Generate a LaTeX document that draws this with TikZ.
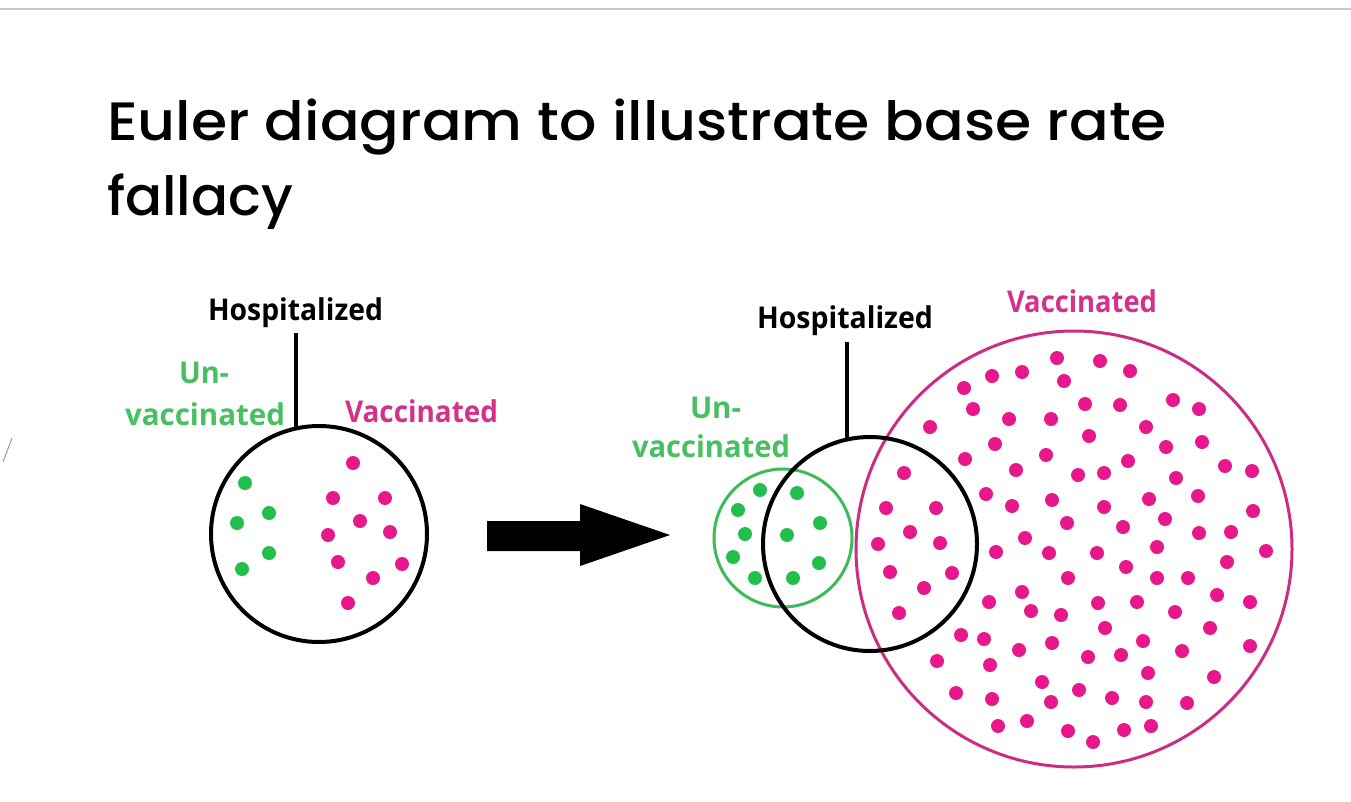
\documentclass[tikz,border=0pt]{standalone}
\usepackage{fontspec}
\usepackage{graphicx}
\setmainfont{Poppins}[UprightFont=* Medium]
\newfontfamily\labfont{Open Sans}
\definecolor{rulegray}{HTML}{C8C8C8}
\definecolor{slashgray}{HTML}{9A9A9A}
\definecolor{greentxt}{HTML}{48BF60}
\definecolor{greendot}{HTML}{22BF4E}
\definecolor{greenline}{HTML}{3DBA5C}
\definecolor{pinktxt}{HTML}{D3318B}
\definecolor{pinkdot}{HTML}{E6188C}
\definecolor{pinkline}{HTML}{CD2C84}
\newcommand\mylabel[2]{\resizebox{#1}{\height}{\labfont\bfseries\fontsize{30}{36}\selectfont #2}}
\newcommand\mytitle[2]{\resizebox{#1}{\height}{\fontsize{54}{60}\selectfont #2}}
\tikzset{
  txt/.style={inner sep=0pt, outer sep=0pt, anchor=base west},
  ring/.style={circle, draw, inner sep=0pt, outer sep=0pt},
  gdot/.style={fill=greendot},
  pdot/.style={fill=pinkdot},
}
\begin{document}
\begin{tikzpicture}[x=1pt,y=-1pt]
\useasboundingbox (0,0) rectangle (1351,801);
% top rule and stray slash
\draw[rulegray, line width=2pt] (0,9) -- (1351,9);
\draw[slashgray, line width=1pt] (12,438) -- (3,462);
% title
\node[txt] (t1) at (107,140) {\mytitle{1060pt}{Euler diagram to illustrate base rate}};
\node[txt] (t2) at (107,215) {\mytitle{186pt}{fallacy}};

% ---------- left diagram ----------
\node[ring, line width=4pt, minimum size=216pt] (circL) at (319,534) {};
\node[txt] (hosL) at (208,320) {\mylabel{175pt}{Hospitalized}};
\node[txt, text=greentxt] (unL1) at (179,383) {\mylabel{50pt}{Un-}};
\node[txt, text=greentxt] (unL2) at (125,425) {\mylabel{160pt}{vaccinated}};
\node[txt, text=pinktxt] (vacL) at (345,422) {\mylabel{153pt}{Vaccinated}};
\coordinate (hosLend) at (296,333);
\draw[line width=3.5pt] (hosLend) -- (hosLend |- circL.101.5);
\foreach \x/\y in {245/483,269/513,237/523,269/553,242/569}
  \fill[gdot] (\x,\y) circle (7);
\foreach \x/\y in {353/463,333/498,385/498,360/521,328/535,390/532,338/562,402/564,373/578,348/603}
  \fill[pdot] (\x,\y) circle (7);

% ---------- arrow ----------
\fill[black] (487,521) -- (580,521) -- (580,504) -- (670,535) -- (580,566) -- (580,551) -- (487,551) -- cycle;

% ---------- right diagram ----------
\node[ring, draw=greenline, line width=3pt, minimum size=138pt] (circG) at (783,538) {};
\node[ring, draw=pinkline, line width=3pt, minimum size=436pt] (circP) at (1074,549) {};
\node[ring, line width=4pt, minimum size=214pt] (circR) at (870,544) {};
\node[txt] (hosR) at (757,328) {\mylabel{176pt}{Hospitalized}};
\node[txt, text=greentxt] (unR1) at (690,418) {\mylabel{51pt}{Un-}};
\node[txt, text=greentxt] (unR2) at (632,457) {\mylabel{158pt}{vaccinated}};
\node[txt, text=pinktxt] (vacR) at (1007,312) {\mylabel{150pt}{Vaccinated}};
\coordinate (hosRend) at (847,342);
\draw[line width=3.5pt] (hosRend) -- (hosRend |- circR.102.4);
\foreach \x/\y in {760/490,797/493,738/510,820/523,745/534,787/535,733/557,819/563,755/578,793/578}
  \fill[gdot] (\x,\y) circle (7);
\foreach \x/\y in {1057/358,1100/361,1130/371,992/376,1022/372,1064/381,964/388,973/409,1085/404,1120/405,
  1173/400,1199/409,930/427,1009/419,1051/419,1089/436,1146/427,1202/442,1166/447,995/444,
  965/459,1046/455,1128/461,1016/470,1078/475,1104/473,1176/478,1225/466,1252/471,904/473,
  986/494,1012/506,1052/500,1104/507,1149/499,1198/496,1165/519,1253/511,886/508,936/508,
  1067/523,1123/527,1199/533,1231/532,910/532,940/543,878/544,1025/538,996/552,1049/553,
  1097/553,1157/547,1266/551,1227/562,1126/567,890/572,952/573,924/588,1068/578,1157/578,
  1188/578,1217/595,1250/602,1022/592,989/602,1098/603,1137/602,1031/611,1061/615,1175/612,
  899/613,1105/628,1210/628,961/635,984/639,1143/641,1019/650,1052/643,1182/651,1250/646,
  1088/657,1121/655,937/661,990/665,1148/673,1214/677,1042/682,1079/690,956/693,992/699,
  1051/702,1112/698,1146/702,1187/703,998/726,1027/721,1068/731,1124/730,1151/726,1093/742}
  \fill[pdot] (\x,\y) circle (7);
\end{tikzpicture}
\end{document}
